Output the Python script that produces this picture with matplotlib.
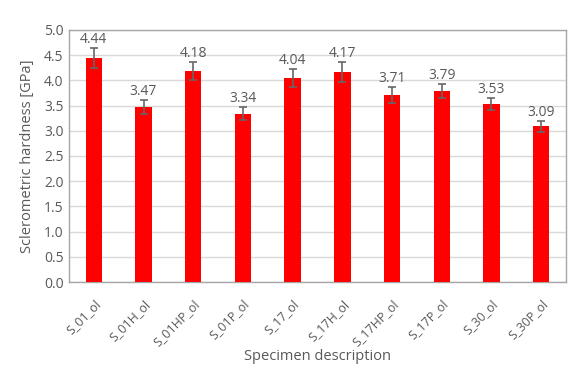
import matplotlib
matplotlib.use("Agg")
import matplotlib.pyplot as plt
import numpy as np

categories = ["S_01_ol", "S_01H_ol", "S_01HP_ol", "S_01P_ol", "S_17_ol",
              "S_17H_ol", "S_17HP_ol", "S_17P_ol", "S_30_ol", "S_30P_ol"]
values = [4.44, 3.47, 4.18, 3.34, 4.04, 4.17, 3.71, 3.79, 3.53, 3.09]
errors = [0.20, 0.14, 0.18, 0.13, 0.18, 0.20, 0.165, 0.14, 0.125, 0.11]
yticks = [0.0, 0.5, 1.0, 1.5, 2.0, 2.5, 3.0, 3.5, 4.0, 4.5, 5.0]

plt.rcParams['font.family'] = ['Open Sans', 'DejaVu Sans']
txt = "#595959"

fig = plt.figure(figsize=(5.74, 3.68), dpi=100)
ax = fig.add_axes([69/574, 1 - 282/368, (566-69)/574, (282-30)/368])

x = np.arange(len(categories))
ax.bar(x, values, width=0.33, color="#ff0000", zorder=3)
ax.errorbar(x, values, yerr=errors, fmt="none", ecolor="#666666",
            elinewidth=1.2, capsize=3, capthick=1.2, zorder=4)
for xi, v, e in zip(x, values, errors):
    ax.text(xi, v + e + 0.02, f"{v:.2f}", ha="center", va="bottom",
            fontsize=10, color=txt)

ax.set_xlim(-0.5, len(categories) - 0.5)
ax.set_ylim(0, 5.0)
ax.set_yticks(yticks)
ax.set_yticklabels([f"{t:.1f}" for t in yticks])
ax.set_xticks(x)
ax.set_xticklabels(categories, rotation=45, ha="right", rotation_mode="anchor")
ax.tick_params(axis="y", length=0, labelsize=10, colors=txt, pad=4)
ax.tick_params(axis="x", length=0, labelsize=9, colors=txt, pad=11)
ax.grid(axis="y", color="#d9d9d9", linewidth=1, zorder=0)
for s in ax.spines.values():
    s.set_color("#a6a6a6")
    s.set_linewidth(1)
ax.set_ylabel("Sclerometric hardness [GPa]", fontsize=10.5, color=txt, labelpad=6)
fig.text((69 + 566) / 2 / 574, 1 - 356 / 368, "Specimen description",
         fontsize=10.5, color=txt, ha="center", va="center")

fig.savefig("out.png", dpi=100)
